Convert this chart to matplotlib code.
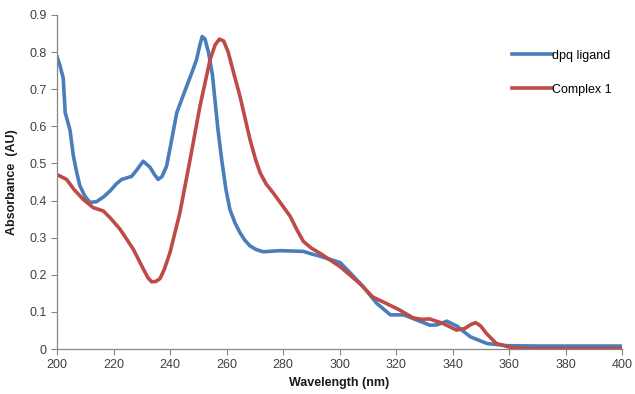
import matplotlib.pyplot as plt

plt.rcParams['font.family'] = ['Liberation Sans', 'DejaVu Sans']

# dpq ligand (blue)
wl_ligand = [200, 201, 202.2, 202.9, 204.6, 205.8, 207, 208.1, 210, 211.7, 214, 216.5,
             218.8, 221, 222.9, 226.4, 228.5, 230.5, 232.9, 234.5, 235.8, 237.2, 238.8,
             240.5, 242.4, 245.9, 248, 249.4, 250.6, 251.4, 252.4, 253.6, 255, 255.9,
             257, 258.3, 259.8, 261.2, 263, 264.8, 266.5, 268.3, 270.5, 273, 279, 287.2,
             289.7, 293.1, 296, 300.2, 303.8, 308.5, 313.2, 318, 322.7, 327.4, 332.1,
             334.5, 338, 341.5, 346.3, 352.1, 359.2, 370, 380, 390, 400]
abs_ligand = [0.788, 0.765, 0.73, 0.637, 0.59, 0.52, 0.475, 0.44, 0.41, 0.395, 0.397, 0.41,
              0.426, 0.445, 0.457, 0.465, 0.485, 0.506, 0.49, 0.47, 0.457, 0.465, 0.493,
              0.56, 0.637, 0.708, 0.75, 0.78, 0.82, 0.842, 0.835, 0.80, 0.74, 0.672,
              0.59, 0.51, 0.43, 0.376, 0.34, 0.313, 0.293, 0.278, 0.268, 0.262, 0.265, 0.263,
              0.257, 0.25, 0.243, 0.233, 0.205, 0.167, 0.123, 0.092, 0.092, 0.078, 0.064,
              0.065, 0.075, 0.062, 0.033, 0.015, 0.009, 0.008, 0.008, 0.008, 0.008]

# Complex 1 (red)
wl_complex = [200, 203.4, 206, 209.3, 212.8, 216.4, 219, 222.3, 227, 230.6, 232.2, 233.5,
              235, 236.5, 238, 240, 243.5, 247.1, 250.6, 254.2, 256, 257.5, 259, 260.6,
              262.5, 264.8, 268.3, 270.3, 271.9, 274, 276.6, 282.5, 285, 287.2, 290,
              293.1, 300.2, 307.1, 311.8, 316.5, 321.3, 326, 329, 331.9, 336.6, 341.4,
              344.3, 346.5, 348.2, 350, 352, 355.5, 360.2, 366, 380, 400]
abs_complex = [0.47, 0.457, 0.43, 0.403, 0.381, 0.372, 0.352, 0.323, 0.269, 0.215, 0.192, 0.181,
               0.182, 0.19, 0.215, 0.26, 0.367, 0.51, 0.654, 0.78, 0.82, 0.835, 0.83, 0.80,
               0.745, 0.68, 0.565, 0.51, 0.475, 0.445, 0.42, 0.358, 0.32, 0.29, 0.272,
               0.258, 0.222, 0.177, 0.14, 0.123, 0.105, 0.084, 0.08, 0.081, 0.069, 0.051,
               0.055, 0.066, 0.071, 0.062, 0.042, 0.015, 0.005, 0.001, 0.001, 0.001]

fig = plt.figure(figsize=(6.35, 3.94), dpi=100)
ax = fig.add_axes([57 / 635, 1 - 349 / 394, 565 / 635, 334 / 394])

ax.plot(wl_ligand, abs_ligand, color='#4a7ebb', lw=2.6, label='dpq ligand', solid_joinstyle='round')
ax.plot(wl_complex, abs_complex, color='#be4b48', lw=2.6, label='Complex 1', solid_joinstyle='round')

ax.set_xlim(200, 400)
ax.set_ylim(0, 0.9)
ax.set_xticks(range(200, 401, 20))
ax.set_yticks([i / 10 for i in range(10)])
ax.set_yticklabels(['0'] + [f'{i / 10:.1f}' for i in range(1, 10)])

for side in ['top', 'right']:
    ax.spines[side].set_visible(False)
for side in ['left', 'bottom']:
    ax.spines[side].set_color('#868686')
    ax.spines[side].set_linewidth(0.9)
ax.tick_params(axis='both', colors='#868686', labelcolor='#404040', labelsize=9, length=4)

ax.set_xlabel('Wavelength (nm)', fontsize=9, fontweight='bold', color='#1a1a1a', labelpad=4)
ax.set_ylabel('Absorbance  (AU)', fontsize=9, fontweight='bold', color='#1a1a1a', labelpad=8)

ax.legend(loc='upper left', bbox_to_anchor=(0.786, 0.93), frameon=False, fontsize=9,
          handlelength=3.2, handletextpad=0.0, labelspacing=1.75)

fig.savefig('out.png', dpi=100)
